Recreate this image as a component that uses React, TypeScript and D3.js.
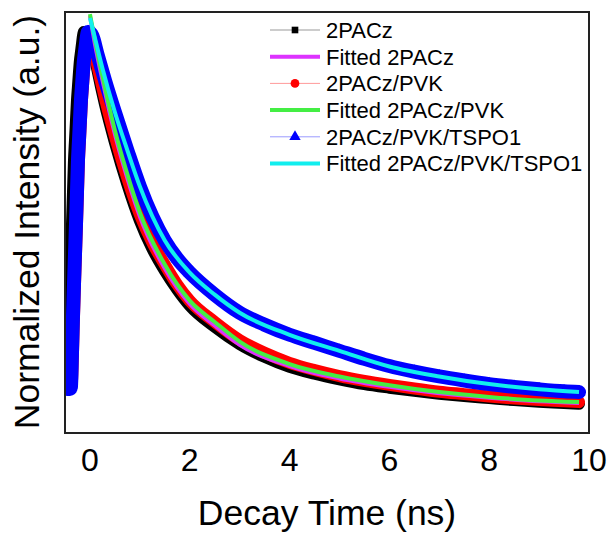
import React from "react";
import * as d3 from "d3";

// measured decay data (normalized)
const time = [
  -0.46, -0.44, -0.42, -0.4, -0.38, -0.36, -0.34, -0.32, -0.3, -0.28, -0.26,
  -0.24, -0.22, -0.2, -0.18, -0.16, -0.14, -0.12, -0.1, -0.08, -0.06, -0.04,
  -0.02, 0.05, 0.15, 0.3, 0.5, 0.75, 1, 1.25, 1.5, 1.75, 2, 2.5, 3, 3.5, 4,
  4.5, 5, 5.5, 6, 6.5, 7, 7.5, 8, 8.5, 9, 9.5, 9.8,
];
const pacz = [
  0.13, 0.2, 0.29, 0.37, 0.445, 0.52, 0.6, 0.68, 0.73, 0.78, 0.83,
  0.865, 0.9, 0.93, 0.95, 0.97, 0.99, 1.0, 1.0, 1.0, 1.0, 1.0,
  0.99, 0.97, 0.905, 0.82, 0.725, 0.62, 0.53, 0.46, 0.405, 0.358, 0.318, 0.265,
  0.222, 0.19, 0.165, 0.148, 0.134, 0.122, 0.113, 0.105, 0.098, 0.092, 0.087,
  0.082, 0.078, 0.075, 0.073,
];
const paczPvk = [
  0.12, 0.12, 0.12, 0.12, 0.12, 0.13, 0.2, 0.29, 0.37, 0.445, 0.52,
  0.6, 0.68, 0.73, 0.78, 0.83, 0.865, 0.9, 0.93, 0.95, 0.97, 0.99,
  1.0, 0.97, 0.915, 0.835, 0.74, 0.635, 0.545, 0.475, 0.42, 0.37, 0.33, 0.277,
  0.232, 0.2, 0.175, 0.157, 0.142, 0.13, 0.12, 0.111, 0.103, 0.097, 0.091,
  0.086, 0.082, 0.079, 0.077,
];
const paczPvkTspo = [
  0.11, 0.11, 0.11, 0.11, 0.115, 0.2, 0.29, 0.37, 0.445, 0.52, 0.6,
  0.68, 0.73, 0.78, 0.83, 0.865, 0.9, 0.93, 0.95, 0.97, 0.99, 1.0,
  1.0, 0.99, 0.945, 0.88, 0.8, 0.705, 0.615, 0.54, 0.48, 0.435, 0.4, 0.345,
  0.3, 0.27, 0.245, 0.225, 0.205, 0.185, 0.167, 0.153, 0.141, 0.131, 0.122,
  0.115, 0.109, 0.104, 0.102,
];

// fitted curves
const fitTime = [0, 0.1, 0.25, 0.5, 0.75, 1, 1.5, 2, 2.5, 3, 4, 5, 6, 7, 8, 9, 9.8];
const fitPacz = [1.04, 0.97, 0.88, 0.745, 0.635, 0.54, 0.41, 0.322, 0.268, 0.22, 0.167, 0.136, 0.115, 0.099, 0.088, 0.079, 0.075];
const fitPaczPvk = [1.045, 0.98, 0.89, 0.755, 0.645, 0.55, 0.42, 0.33, 0.277, 0.228, 0.172, 0.141, 0.119, 0.102, 0.09, 0.081, 0.077];
const fitTspo = [1.035, 0.985, 0.91, 0.8, 0.705, 0.615, 0.48, 0.4, 0.345, 0.3, 0.245, 0.205, 0.166, 0.141, 0.122, 0.109, 0.102];

const xTicks = [0, 2, 4, 6, 8, 10];
const legendLabels = [
  "2PACz",
  "Fitted 2PACz",
  "2PACz/PVK",
  "Fitted 2PACz/PVK",
  "2PACz/PVK/TSPO1",
  "Fitted 2PACz/PVK/TSPO1",
];

const W = 610;
const H = 533;
const margin = { left: 65, right: 21, top: 12, bottom: 100 };
const font = "'Liberation Sans', Arial, sans-serif";

export default function App() {
  const x = d3.scaleLinear().domain([-0.5, 10]).range([margin.left, W - margin.right]);
  const y = d3.scaleLinear().domain([0, 1.05]).range([H - margin.bottom, margin.top]);

  const line = d3
    .line<[number, number]>()
    .x((d) => x(d[0]))
    .y((d) => y(d[1]))
    .curve(d3.curveMonotoneX);

  const pts = (vals: number[], t = time) => t.map((v, i) => [v, vals[i]] as [number, number]);

  const dataSeries = [
    { vals: pacz, color: "#000000", light: "#999999", shape: d3.symbolSquare, size: 55, band: 12 },
    { vals: paczPvk, color: "#ff0000", light: "#ff9a9a", shape: d3.symbolCircle, size: 75, band: 12 },
    { vals: paczPvkTspo, color: "#0000ff", light: "#9a9aff", shape: d3.symbolTriangle, size: 70, band: 14 },
  ];
  const fits = [
    { vals: fitPacz, color: "#dd33ff" },
    { vals: fitPaczPvk, color: "#44ee44" },
    { vals: fitTspo, color: "#11eeee" },
  ];

  const plotW = W - margin.left - margin.right;
  const plotH = H - margin.top - margin.bottom;

  // legend layout
  const legX0 = 270;
  const legX1 = 320;
  const legY = (i: number) => 30 + i * 26.7;
  const legendItems = [
    { kind: "data", s: dataSeries[0] },
    { kind: "fit", f: fits[0] },
    { kind: "data", s: dataSeries[1] },
    { kind: "fit", f: fits[1] },
    { kind: "data", s: dataSeries[2] },
    { kind: "fit", f: fits[2] },
  ];

  return (
    <svg
      width={W}
      height={H}
      style={{ position: "absolute", left: 0, top: 0, background: "#fff" }}
      fontFamily={font}
    >
      <defs>
        <clipPath id="plot">
          <rect x={margin.left} y={margin.top} width={plotW} height={plotH} />
        </clipPath>
      </defs>
      <rect width={W} height={H} fill="#fff" />

      <g clipPath="url(#plot)">
        {/* dense measured points drawn as bands with markers */}
        {dataSeries.map((s, k) => (
          <g key={"d" + k}>
            <path
              d={line(pts(s.vals)) || ""}
              fill="none"
              stroke={s.color}
              strokeWidth={s.band}
              strokeLinecap="round"
              strokeLinejoin="round"
            />
            {time.map((t, i) => (
              <path
                key={i}
                transform={`translate(${x(t)},${y(s.vals[i])})`}
                d={d3.symbol(s.shape, s.size)() || ""}
                fill={s.color}
              />
            ))}
          </g>
        ))}
        {fits.map((f, k) => (
          <path
            key={"f" + k}
            d={line(pts(f.vals, fitTime)) || ""}
            fill="none"
            stroke={f.color}
            strokeWidth={4}
          />
        ))}
      </g>

      {/* frame */}
      <rect
        x={margin.left}
        y={margin.top}
        width={plotW}
        height={plotH}
        fill="none"
        stroke="#222"
        strokeWidth={2}
      />

      {/* x tick labels */}
      {xTicks.map((t) => (
        <text key={t} x={x(t)} y={471} textAnchor="middle" fontSize={32} fill="#000">
          {t}
        </text>
      ))}

      <text x={327} y={525} textAnchor="middle" fontSize={35.5} fill="#000">
        Decay Time (ns)
      </text>
      <text
        transform="translate(39,222) rotate(-90)"
        textAnchor="middle"
        fontSize={35.5}
        fill="#000"
      >
        Normalized Intensity (a.u.)
      </text>

      {/* legend */}
      {legendItems.map((it, i) => {
        const cy = legY(i);
        return (
          <g key={"l" + i}>
            {it.kind === "data" && it.s ? (
              <>
                <line x1={legX0} x2={legX1} y1={cy} y2={cy} stroke={it.s.light} strokeWidth={1} />
                <path
                  transform={`translate(${(legX0 + legX1) / 2},${cy})`}
                  d={d3.symbol(it.s.shape, it.s.size * 0.8)() || ""}
                  fill={it.s.color}
                />
              </>
            ) : it.f ? (
              <line x1={legX0} x2={legX1} y1={cy} y2={cy} stroke={it.f.color} strokeWidth={4} />
            ) : null}
            <text x={326} y={cy} dy="0.36em" fontSize={22} fill="#000">
              {legendLabels[i]}
            </text>
          </g>
        );
      })}
    </svg>
  );
}
